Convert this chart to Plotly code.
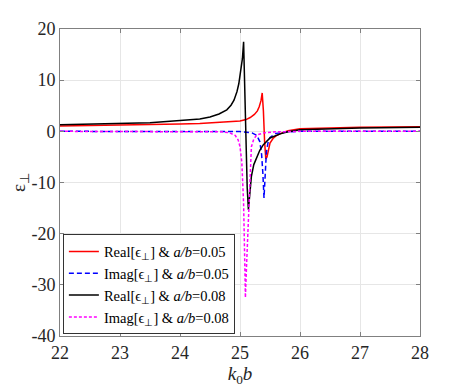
import plotly.graph_objects as go

# Real[eps] a/b=0.05
x_re05 = [22, 23, 24, 24.33, 24.7, 25.0, 25.1, 25.17, 25.24, 25.29, 25.32, 25.35, 25.37, 25.39, 25.41, 25.43, 25.45,
          25.5, 25.55, 25.6, 25.7, 25.8, 26, 26.5, 27, 28]
y_re05 = [1.05, 1.2, 1.45, 1.55, 1.8, 2.0, 2.3, 2.7, 3.3, 4.0, 4.8, 6.0, 7.5, 4.0, -2.0, -5.4, -5.0,
          -2.3, -1.4, -0.9, -0.3, 0.1, 0.5, 0.7, 0.8, 0.9]
# Imag[eps] a/b=0.05
x_im05 = [22, 24, 25.0, 25.2, 25.28, 25.33, 25.36, 25.38, 25.4, 25.42, 25.44, 25.47, 25.5, 25.6, 25.8, 26, 28]
y_im05 = [0, 0, -0.05, -0.3, -0.8, -2.0, -4.5, -8.0, -13.0, -8.5, -4.0, -2.0, -1.2, -0.4, -0.1, 0, 0]
# Real[eps] a/b=0.08
x_re08 = [22, 23, 23.5, 24, 24.33, 24.5, 24.65, 24.78, 24.85, 24.9, 24.95, 24.98, 25.01, 25.04, 25.06, 25.08, 25.1,
          25.12, 25.14, 25.16, 25.19, 25.23, 25.28, 25.33, 25.39, 25.5, 25.67, 25.8, 26, 26.5, 27, 28]
y_re08 = [1.3, 1.5, 1.7, 2.1, 2.4, 2.8, 3.4, 4.2, 5.1, 6.1, 7.8, 9.3, 11.5, 14.2, 17.5, 8.0, -3.0,
          -11.0, -15.3, -12.5, -8.8, -6.5, -4.9, -3.7, -2.6, -1.3, -0.5, -0.1, 0.3, 0.5, 0.65, 0.8]
# Imag[eps] a/b=0.08
x_im08 = [22, 24, 24.7, 24.83, 24.92, 24.97, 25.0, 25.03, 25.06, 25.08, 25.09, 25.11, 25.14, 25.17, 25.19,
          25.23, 25.28, 25.4, 25.6, 26, 28]
y_im08 = [0, 0, -0.1, -0.3, -0.8, -1.7, -3.0, -6.0, -14.0, -26.0, -32.5, -26.0, -17.0, -6.0, -3.0,
          -1.5, -0.7, -0.3, -0.1, 0, 0]

xticks = [22, 23, 24, 25, 26, 27, 28]
yticks = [20, 10, 0, -10, -20, -30, -40]
yticklabels = ["20", "10", "0", "-10", "-20", "-30", "-40"]

serif = "Liberation Serif"
fig = go.Figure()
fig.add_trace(go.Scatter(x=x_re05, y=y_re05, mode="lines", line=dict(color="#ff0000", width=1.5),
                         name="Real[ϵ<sub>⊥</sub>] & <i>a/b</i>=0.05"))
fig.add_trace(go.Scatter(x=x_im05, y=y_im05, mode="lines", line=dict(color="#0000ff", width=1.5, dash="5px,3px"),
                         name="Imag[ϵ<sub>⊥</sub>] & <i>a/b</i>=0.05"))
fig.add_trace(go.Scatter(x=x_re08, y=y_re08, mode="lines", line=dict(color="#000000", width=1.5),
                         name="Real[ϵ<sub>⊥</sub>] & <i>a/b</i>=0.08"))
fig.add_trace(go.Scatter(x=x_im08, y=y_im08, mode="lines", line=dict(color="#ff00ff", width=1.5, dash="3px,2px"),
                         name="Imag[ϵ<sub>⊥</sub>] & <i>a/b</i>=0.08"))

axis_common = dict(showline=True, linecolor="#808080", linewidth=1, mirror="ticks", ticks="inside",
                   ticklen=4, tickcolor="#808080", showgrid=True, gridcolor="#e6e6e6", zeroline=False,
                   tickfont=dict(family=serif, size=18, color="#262626"))
fig.update_xaxes(range=[22, 28], tickvals=xticks, title=dict(text="<i>k</i><sub>0</sub><i>b</i>",
                 font=dict(family=serif, size=19, color="#262626"), standoff=2), **axis_common)
fig.update_yaxes(range=[-40, 20], tickvals=yticks, ticktext=yticklabels,
                 title=dict(text="ε<sub>⊥</sub>", font=dict(family=serif, size=19, color="#262626"), standoff=8),
                 **axis_common)
# page body has an 8px margin, so the figure is a bit smaller than the window
fig.update_layout(width=455, height=379, margin=dict(l=52, r=43, t=21, b=51, autoexpand=False),
                  plot_bgcolor="white", paper_bgcolor="white",
                  legend=dict(x=0.008, y=0.005, xanchor="left", yanchor="bottom", bgcolor="white",
                              bordercolor="#333333", borderwidth=1, itemwidth=30, tracegroupgap=0,
                              font=dict(family=serif, size=14.5, color="#000000")))
fig.write_html("out.html")
